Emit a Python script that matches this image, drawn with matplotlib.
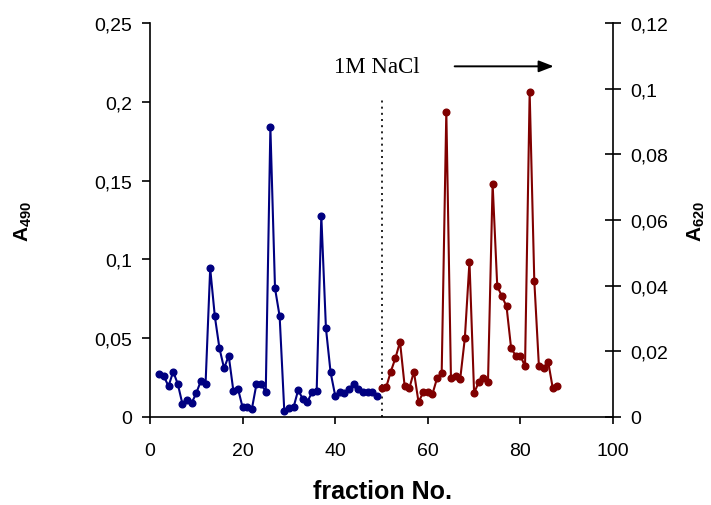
import matplotlib
matplotlib.use("Agg")
import matplotlib.pyplot as plt
from matplotlib.ticker import FixedLocator, FixedFormatter

plt.rcParams['font.family'] = ['Liberation Sans', 'DejaVu Sans']
plt.rcParams['mathtext.fontset'] = 'custom'
plt.rcParams['mathtext.bf'] = 'Liberation Sans:bold'
plt.rcParams['mathtext.rm'] = 'Liberation Sans'

# ---- data ----
blue_fractions = list(range(2, 50))
blue_a490 = [0.0273, 0.0258, 0.0195, 0.0288, 0.0210, 0.0083, 0.0110, 0.0089,
             0.0152, 0.0230, 0.0210, 0.0943, 0.0639, 0.0436, 0.0309, 0.0389,
             0.0167, 0.0180, 0.0061, 0.0061, 0.0051, 0.0210, 0.0210, 0.0160,
             0.1838, 0.0817, 0.0639, 0.0040, 0.0055, 0.0061, 0.0171, 0.0114,
             0.0097, 0.0157, 0.0167, 0.1277, 0.0563, 0.0284, 0.0135, 0.0157,
             0.0150, 0.0180, 0.0210, 0.0180, 0.0160, 0.0157, 0.0157, 0.0131]

red_fractions = list(range(50, 89))
red_a620 = [0.0087, 0.0090, 0.0138, 0.0179, 0.0229, 0.0094, 0.0087, 0.0138,
            0.0045, 0.0075, 0.0075, 0.0070, 0.0118, 0.0135, 0.0930, 0.0118,
            0.0126, 0.0116, 0.0240, 0.0473, 0.0073, 0.0106, 0.0118, 0.0106,
            0.0710, 0.0398, 0.0368, 0.0337, 0.0209, 0.0187, 0.0187, 0.0154,
            0.0989, 0.0415, 0.0154, 0.0148, 0.0168, 0.0087, 0.0094]

x_ticks = [0, 20, 40, 60, 80, 100]
x_ticklabels = ['0', '20', '40', '60', '80', '100']
left_ticks = [0, 0.05, 0.10, 0.15, 0.20, 0.25]
left_ticklabels = ['0', '0,05', '0,1', '0,15', '0,2', '0,25']
right_ticks = [0, 0.02, 0.04, 0.06, 0.08, 0.10, 0.12]
right_ticklabels = ['0', '0,02', '0,04', '0,06', '0,08', '0,1', '0,12']

salt_fraction = 50
salt_label = '1M NaCl'

# ---- figure ----
fig = plt.figure(figsize=(7.11, 5.06), dpi=100)
ax = fig.add_axes([150/711, 1-418/506, 463/711, 394/506])
ax2 = ax.twinx()

ax.plot(blue_fractions, blue_a490, color='#000080', lw=1.5, marker='o',
        ms=4.8, mec='#000080', mfc='#000080', clip_on=False, zorder=3)
ax2.plot(red_fractions, red_a620, color='#800000', lw=1.5, marker='o',
         ms=4.8, mec='#800000', mfc='#800000', clip_on=False, zorder=3)

ax.set_xlim(0, 100)
ax.set_ylim(0, 0.25)
ax2.set_ylim(0, 0.12)

ax.xaxis.set_major_locator(FixedLocator(x_ticks))
ax.xaxis.set_major_formatter(FixedFormatter(x_ticklabels))
ax.yaxis.set_major_locator(FixedLocator(left_ticks))
ax.yaxis.set_major_formatter(FixedFormatter(left_ticklabels))
ax2.yaxis.set_major_locator(FixedLocator(right_ticks))
ax2.yaxis.set_major_formatter(FixedFormatter(right_ticklabels))

for a in (ax, ax2):
    a.spines['top'].set_visible(False)
    for s in a.spines.values():
        s.set_linewidth(1.2)
ax.spines['right'].set_visible(False)
ax2.spines['left'].set_visible(False)
ax2.spines['bottom'].set_visible(False)

ax.tick_params(axis='x', direction='out', length=5, width=1.2, pad=13,
               labelsize=14)
ax.tick_params(axis='y', direction='out', length=6, width=1.2, pad=7,
               labelsize=14)
ax2.tick_params(axis='y', direction='inout', length=11, width=1.2, pad=7,
                labelsize=14)

ax.set_xlabel('fraction No.', fontsize=18, fontweight='bold')
ax.xaxis.set_label_coords(0.503, -0.158)
ax.set_ylabel(r'$\mathbf{A_{490}}$', fontsize=15, rotation=90)
ax.yaxis.set_label_coords(-0.25, 0.5)
ax2.set_ylabel(r'$\mathbf{A_{620}}$', fontsize=15, rotation=90)
ax2.yaxis.set_label_coords(1.158, 0.5)

# dotted line marking the salt step
ax.plot([salt_fraction, salt_fraction], [0, 0.201], color='black', lw=1.2,
        ls=(0, (1.2, 2.5)), zorder=2)

ax.text(49.0, 0.2225, salt_label, fontsize=16.5, family='Liberation Serif',
        ha='center', va='center')
ax.annotate('', xy=(87.8, 0.2225), xytext=(65.2, 0.2225),
            arrowprops=dict(arrowstyle='-|>,head_length=0.9,head_width=0.35',
                            color='black', lw=1.4),
            annotation_clip=False)

fig.savefig('out.png', dpi=100)
